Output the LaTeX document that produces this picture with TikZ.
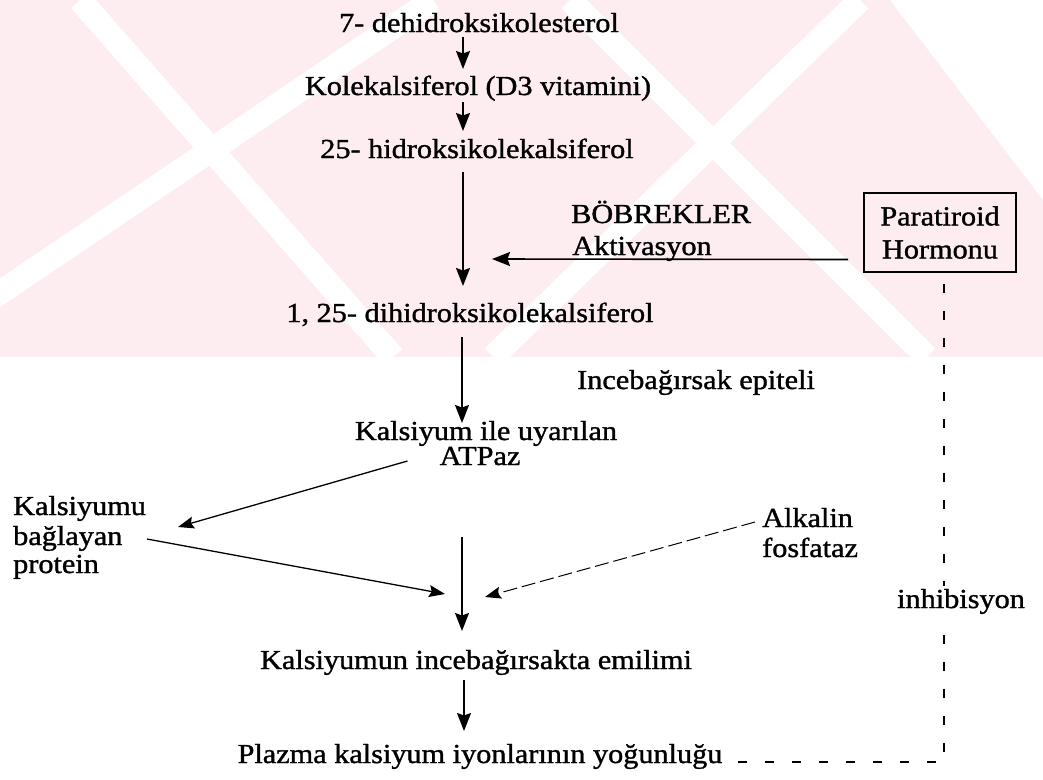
\documentclass[tikz,border=0pt]{standalone}
\usepackage{fontspec}
\setmainfont{Liberation Serif}[FakeStretch=1.1,FakeBold=1.2]
\usetikzlibrary{arrows.meta,calc}
\definecolor{wmpink}{RGB}{253,236,240}
\begin{document}
\begin{tikzpicture}[x=1pt,y=-1pt,
  txt/.style={inner sep=0pt, font=\fontsize{27.5}{30}\selectfont},
  flow/.style={line width=1.6pt, -{Stealth[length=18pt,width=14pt,inset=2.5pt]}},
  sideflow/.style={line width=1.3pt, -{Stealth[length=16pt,width=12pt,inset=2.5pt]}},
  dashflow/.style={line width=1pt, dash pattern=on 14pt off 5pt, -{Stealth[length=16pt,width=12pt,inset=2.5pt]}},
  inhib/.style={line width=1.6pt, dash pattern=on 9pt off 18pt},
  hormbox/.style={draw, line width=1.6pt, inner sep=0pt, minimum width=152pt, minimum height=79pt, align=center, font=\fontsize{27.5}{33}\selectfont}]
\useasboundingbox (0,0) rectangle (1043,779);
% faint watermark of the scan
\begin{scope}
  \clip (0,0) rectangle (1043,357);
  \fill[wmpink] (0,0) rectangle (1043,357);
  \draw[white, line width=24pt] (80,0) -- (393,357);
  \draw[white, line width=24pt] (433,0) -- (-95,357);
  \draw[white, line width=24pt] (860,0) -- (493,357);
  \draw[white, line width=24pt] (570,0) -- (927,357);
  \fill[white] (890,0) -- (1043,0) -- (1043,200) -- cycle;
\end{scope}
% spine of the main chain
\coordinate (spine) at (463,0);
% main chain
\node[txt, anchor=base] (n1) at (479,32) {7- dehidroksikolesterol};
\node[txt, anchor=base] (n2) at (478,95) {Kolekalsiferol (D3 vitamini)};
\node[txt, anchor=base] (n3) at (477,158) {25- hidroksikolekalsiferol};
\node[txt, anchor=base] (n4) at (470,322) {1, 25- dihidroksikolekalsiferol};
\node[txt, anchor=base] (k1) at (486,440) {Kalsiyum ile uyarılan};
\node[txt, anchor=base] (atp) at (480,465) {ATPaz};
\node[txt, anchor=base] (kem) at (476,669) {Kalsiyumun incebağırsakta emilimi};
\node[txt, anchor=base] (pl) at (480,763) {Plazma kalsiyum iyonlarının yoğunluğu};
% side labels
\node[txt, anchor=base west] (bob) at (571,223) {BÖBREKLER};
\node[txt, anchor=base west] (akt) at (572,255) {Aktivasyon};
\node[txt, anchor=base west] (ince) at (577,389) {Incebağırsak epiteli};
\node[txt, anchor=base west] (kb1) at (13,515) {Kalsiyumu};
\node[txt, anchor=base west] (kb2) at (13,545) {bağlayan};
\node[txt, anchor=base west] (kb3) at (13,573) {protein};
\node[txt, anchor=base west] (alk1) at (762,527) {Alkalin};
\node[txt, anchor=base west] (alk2) at (762,557) {fosfataz};
\node[hormbox] (box) at (940,232.5) {Paratiroid\\Hormonu};
% main arrows
\draw[flow] ($(n1.base -| spine)+(0,5)$) -- ($(n2.base -| spine)+(0,-26)$);
\draw[flow] ($(n2.base -| spine)+(0,7)$) -- ($(n3.base -| spine)+(0,-27)$);
\draw[flow] ($(n3.base -| spine)+(0,14)$) -- ($(n4.base -| spine)+(0,-36)$);
\draw[flow] ($(n4.base -| spine)+(-1,15)$) -- ($(k1.base -| spine)+(-1,-17)$);
\draw[flow] ($(atp.base -| spine)+(-1,72)$) -- ($(kem.base -| spine)+(-1,-38)$);
\draw[flow] ($(kem.base -| spine)+(1,11)$) -- ($(pl.base -| spine)+(1,-32)$);
% activation by the parathyroid hormone
\draw[flow] ([xshift=-15pt,yshift=-27pt]box.west) -- ($(n4.base -| spine)+(29,-63)$);
% side inputs
\draw[sideflow] ($(atp.base west)+(-32,-4)$) -- ($(kb1.base west)+(165,12)$);
\draw[sideflow] ($(kb2.base west)+(134,-6)$) -- ($(kem.base -| spine)+(-18,-75)$);
\draw[dashflow] ($(alk1.base west)+(-7,-5)$) -- ($(kem.base -| spine)+(22,-72)$);
% inhibition
\coordinate (inhtop) at ($(box.south)+(4,11)$);
\coordinate (inhcorner) at (inhtop |- pl.base);
\draw[inhib] (inhtop) -- ($(inhcorner)+(0,-1)$) -- ($(pl.base east)+(9,-1)$);
\node[txt, anchor=base, fill=white, inner xsep=2pt, inner ysep=3pt] (inh) at (961,608) {inhibisyon};
\end{tikzpicture}
\end{document}
